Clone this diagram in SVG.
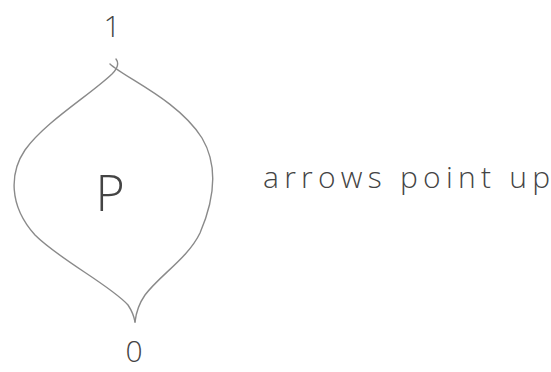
<svg xmlns="http://www.w3.org/2000/svg" width="551" height="372" viewBox="0 0 551 372">
<style>
.edge{fill:none;stroke:#8a8a8a;stroke-width:1.4;stroke-linecap:round}
.lbl{font-family:"Open Sans","Liberation Sans",sans-serif;font-weight:300;fill:#444}
</style>
<rect width="551" height="372" fill="#ffffff"/>
<g id="connectors">
<path class="edge" d="M116,59 C119,63 118,68 112,74 C90,95 45,122 25,150 C10,172 8,205 35,235 C60,260 110,285 128,305 C132,311 134,316 135,322"/>
<path class="edge" d="M110,64 C125,78 178,100 202,138 C218,165 215,198 200,233 C188,258 160,275 145,295 C138,305 136,313 135,322"/>
</g>
<g id="node-1"><text class="lbl" x="112" y="37" font-size="30" text-anchor="middle">1</text></g>
<g id="node-P"><text class="lbl" x="110" y="211" font-size="50" text-anchor="middle">P</text></g>
<g id="node-0"><text class="lbl" x="134" y="362" font-size="30" text-anchor="middle">0</text></g>
<g id="note"><text class="lbl" x="263" y="188" font-size="30" textLength="287" lengthAdjust="spacing">arrows point up</text></g>
</svg>
